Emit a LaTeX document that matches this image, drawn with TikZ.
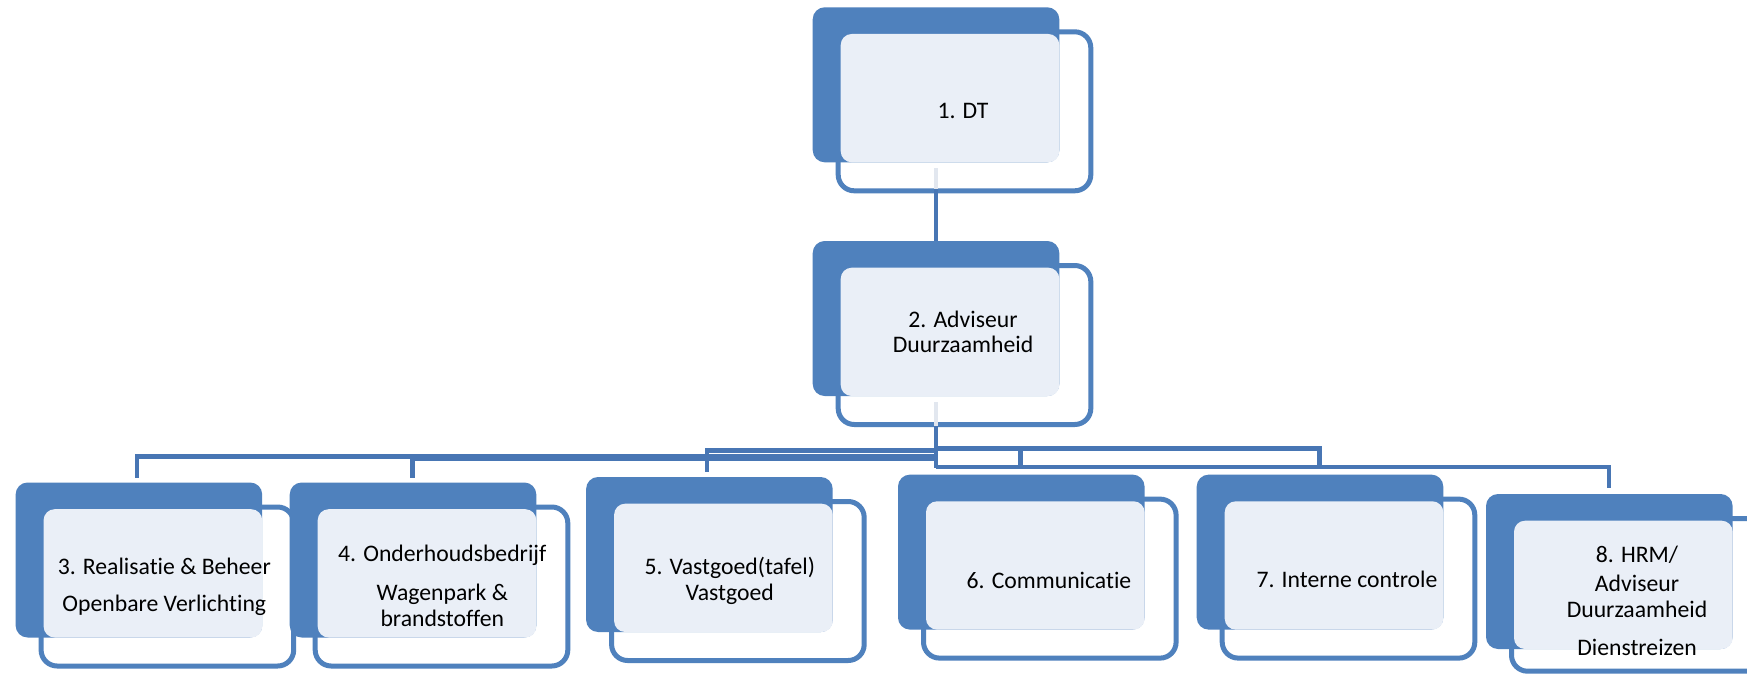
\documentclass[tikz,border=0pt]{standalone}
\usepackage{fontspec}
\setmainfont{Carlito}[Ligatures=NoCommon]
\usetikzlibrary{calc}
\definecolor{boxblue}{HTML}{4F81BD}
\definecolor{boxlight}{HTML}{EAEFF7}
\definecolor{linkblue}{HTML}{4876B4}
\definecolor{linkpale}{HTML}{E2E7EF}
\tikzset{
  boxtext/.style={font=\fontsize{23.7}{25.5}\selectfont, align=center, inner sep=0pt, text=black},
  link/.style={draw=linkblue, line width=4.5pt},
  palelink/.style={draw=linkpale, line width=4.5pt},
}
% #1 name, #2 top-left of the filled card, #3 height of the outlined card, #4 text position, #5 text
\newcommand\orgbox[5]{%
  \coordinate (#1a) at (#2);
  \fill[boxblue, rounded corners=12pt] (#1a) rectangle ++(246.6,155);
  \draw[boxblue, line width=5pt, rounded corners=16pt] ($(#1a)+(25.5,24.5)$) rectangle ++(252.6,#3);
  \fill[boxlight, rounded corners=11pt] ($(#1a)+(28,26.7)$) rectangle ($(#1a)+(246.6,155)$);
  \node[boxtext] (#1) at (#4) {#5};
}
\begin{document}
\begin{tikzpicture}[x=1pt,y=-1pt]
\useasboundingbox (0,0) rectangle (1747,677);
\clip (0,0) rectangle (1747,677);
\fill[white] (0,0) rectangle (1747,677);

\orgbox{b1}{812.7,7.3}{159}{963,111}{1. DT}
\orgbox{b2}{812.7,241}{159}{963,331.8}{2. Adviseur\\Duurzaamheid}

% connector 1 -> 2
\coordinate (t1s) at (936,168);
\coordinate (t1m) at (936,189);
\coordinate (b2top) at (936,241);
\draw[palelink] (t1s) -- (t1m);
\draw[link] (t1m) -- (b2top);

\orgbox{b3}{15.6,482.5}{159}{164.3,586.5}{3. Realisatie \& Beheer\\[11.5pt]Openbare Verlichting}
\orgbox{b4}{289.7,482.5}{159}{442.3,586.1}{4. Onderhoudsbedrijf\\[13.5pt]Wagenpark \&\\brandstoffen}
\orgbox{b5}{586.1,477}{159}{729.8,581}{5. Vastgoed(tafel)\\Vastgoed}
\orgbox{b6}{898,474.6}{159}{1049,580.5}{6. Communicatie}
\orgbox{b7}{1196.7,474.6}{159}{1347,579.4}{7. Interne controle}
\orgbox{b8}{1486,494}{152.7}{1637,601}{8. HRM/\\[3.5pt]Adviseur\\Duurzaamheid\\[12.5pt]Dienstreizen}

% connectors 2 -> children
\coordinate (t2s) at (936,402);
\coordinate (hub) at (936,426);
\coordinate (c6) at (936,468);
\coordinate (c3) at (137,477.7);
\coordinate (c4) at (412.7,478);
\coordinate (c5) at (707,471.7);
\coordinate (c7) at (1319.3,466);
\coordinate (c8) at (1609,488.3);
\coordinate (cx) at (1020.7,467);
\draw[palelink] (t2s) -- (hub);
\draw[link] (hub) -- (c6);
\draw[link] (hub |- 0,456.7) -| (c3);
\draw[link] (hub |- 0,458.5) -| (c4);
\draw[link] (hub |- 0,450.7) -| (c5);
\draw[link] (hub |- 0,448.3) -| (c7);
\draw[link] (hub |- 0,467) -| (c8);
\draw[link] (cx |- 0,448.3) -- (cx);
\end{tikzpicture}
\end{document}
